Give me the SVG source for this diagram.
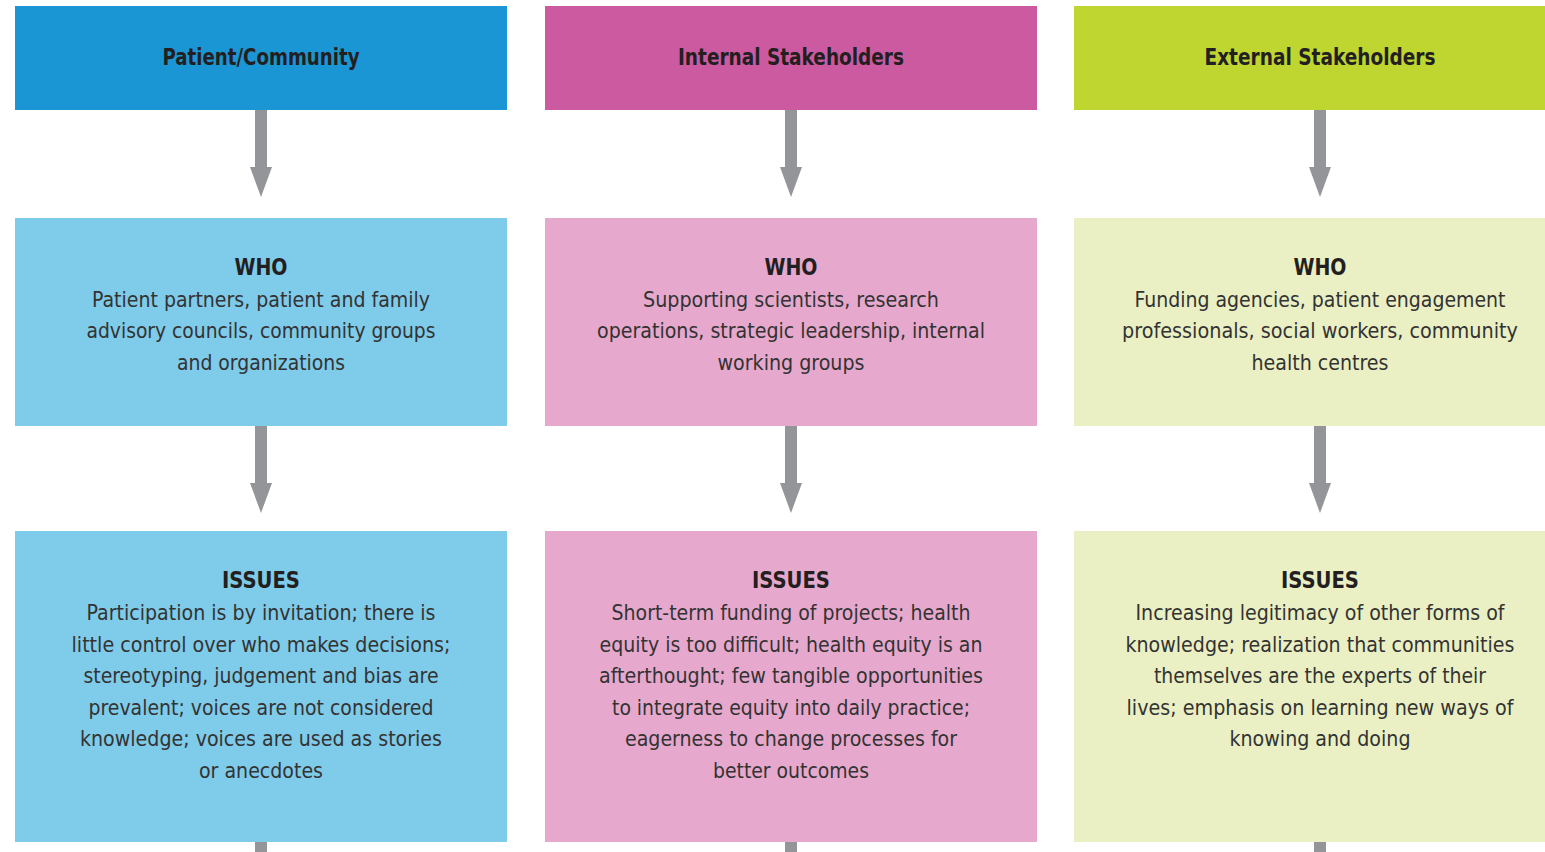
<svg xmlns="http://www.w3.org/2000/svg" width="1545" height="852" viewBox="0 0 1545 852">
<style>
.t{font-family:"DejaVu Sans Condensed","DejaVu Sans",sans-serif;font-stretch:condensed;text-anchor:middle}
.h{font-size:23px;font-weight:bold;fill:#231f20}
.k{font-size:23px;font-weight:bold;fill:#231f20}
.b{font-size:22px;fill:#333333}
.arr{fill:#939598}
</style>
<defs>
<path id="arrow" d="M-6,0 H6 V57 H11 L0,87 L-11,57 H-6 Z"/>
</defs>
<g id="connectors" class="arr">
<use href="#arrow" x="261" y="110"/>
<use href="#arrow" x="261" y="426"/>
<use href="#arrow" x="791" y="110"/>
<use href="#arrow" x="791" y="426"/>
<use href="#arrow" x="1320" y="110"/>
<use href="#arrow" x="1320" y="426"/>
<rect x="255" y="842" width="12" height="10"/>
<rect x="785" y="842" width="12" height="10"/>
<rect x="1314" y="842" width="12" height="10"/>
</g>
<g id="h1"><rect x="15" y="6" width="492" height="104" fill="#1b96d4"/>
<text class="t h" x="261" y="65" textLength="197" lengthAdjust="spacingAndGlyphs">Patient/Community</text></g>
<g id="h2"><rect x="545" y="6" width="492" height="104" fill="#cc5aa0"/>
<text class="t h" x="791" y="65" textLength="226" lengthAdjust="spacingAndGlyphs">Internal Stakeholders</text></g>
<g id="h3"><rect x="1074" y="6" width="471" height="104" fill="#bed62f"/>
<text class="t h" x="1320" y="65" textLength="231" lengthAdjust="spacingAndGlyphs">External Stakeholders</text></g>

<g id="who1"><rect x="15" y="218" width="492" height="208" fill="#7fcbea"/>
<text class="t k" x="261" y="275" textLength="53" lengthAdjust="spacingAndGlyphs">WHO</text>
<text class="t b" x="261" y="307" textLength="338" lengthAdjust="spacingAndGlyphs">Patient partners, patient and family</text>
<text class="t b" x="261" y="338" textLength="349" lengthAdjust="spacingAndGlyphs">advisory councils, community groups</text>
<text class="t b" x="261" y="370" textLength="168" lengthAdjust="spacingAndGlyphs">and organizations</text></g>
<g id="who2"><rect x="545" y="218" width="492" height="208" fill="#e6a9cd"/>
<text class="t k" x="791" y="275" textLength="53" lengthAdjust="spacingAndGlyphs">WHO</text>
<text class="t b" x="791" y="307" textLength="296" lengthAdjust="spacingAndGlyphs">Supporting scientists, research</text>
<text class="t b" x="791" y="338" textLength="388" lengthAdjust="spacingAndGlyphs">operations, strategic leadership, internal</text>
<text class="t b" x="791" y="370" textLength="147" lengthAdjust="spacingAndGlyphs">working groups</text></g>
<g id="who3"><rect x="1074" y="218" width="471" height="208" fill="#eaf0c3"/>
<text class="t k" x="1320" y="275" textLength="53" lengthAdjust="spacingAndGlyphs">WHO</text>
<text class="t b" x="1320" y="307" textLength="371" lengthAdjust="spacingAndGlyphs">Funding agencies, patient engagement</text>
<text class="t b" x="1320" y="338" textLength="396" lengthAdjust="spacingAndGlyphs">professionals, social workers, community</text>
<text class="t b" x="1320" y="370" textLength="137" lengthAdjust="spacingAndGlyphs">health centres</text></g>

<g id="iss1"><rect x="15" y="531" width="492" height="311" fill="#7fcbea"/>
<text class="t k" x="261" y="588" textLength="78" lengthAdjust="spacingAndGlyphs">ISSUES</text>
<text class="t b" x="261" y="620" textLength="349" lengthAdjust="spacingAndGlyphs">Participation is by invitation; there is</text>
<text class="t b" x="261" y="652" textLength="379" lengthAdjust="spacingAndGlyphs">little control over who makes decisions;</text>
<text class="t b" x="261" y="683" textLength="355" lengthAdjust="spacingAndGlyphs">stereotyping, judgement and bias are</text>
<text class="t b" x="261" y="715" textLength="345" lengthAdjust="spacingAndGlyphs">prevalent; voices are not considered</text>
<text class="t b" x="261" y="746" textLength="362" lengthAdjust="spacingAndGlyphs">knowledge; voices are used as stories</text>
<text class="t b" x="261" y="778" textLength="124" lengthAdjust="spacingAndGlyphs">or anecdotes</text></g>
<g id="iss2"><rect x="545" y="531" width="492" height="311" fill="#e6a9cd"/>
<text class="t k" x="791" y="588" textLength="78" lengthAdjust="spacingAndGlyphs">ISSUES</text>
<text class="t b" x="791" y="620" textLength="359" lengthAdjust="spacingAndGlyphs">Short-term funding of projects; health</text>
<text class="t b" x="791" y="652" textLength="383" lengthAdjust="spacingAndGlyphs">equity is too difficult; health equity is an</text>
<text class="t b" x="791" y="683" textLength="384" lengthAdjust="spacingAndGlyphs">afterthought; few tangible opportunities</text>
<text class="t b" x="791" y="715" textLength="358" lengthAdjust="spacingAndGlyphs">to integrate equity into daily practice;</text>
<text class="t b" x="791" y="746" textLength="332" lengthAdjust="spacingAndGlyphs">eagerness to change processes for</text>
<text class="t b" x="791" y="778" textLength="156" lengthAdjust="spacingAndGlyphs">better outcomes</text></g>
<g id="iss3"><rect x="1074" y="531" width="471" height="311" fill="#eaf0c3"/>
<text class="t k" x="1320" y="588" textLength="78" lengthAdjust="spacingAndGlyphs">ISSUES</text>
<text class="t b" x="1320" y="620" textLength="369" lengthAdjust="spacingAndGlyphs">Increasing legitimacy of other forms of</text>
<text class="t b" x="1320" y="652" textLength="389" lengthAdjust="spacingAndGlyphs">knowledge; realization that communities</text>
<text class="t b" x="1320" y="683" textLength="332" lengthAdjust="spacingAndGlyphs">themselves are the experts of their</text>
<text class="t b" x="1320" y="715" textLength="387" lengthAdjust="spacingAndGlyphs">lives; emphasis on learning new ways of</text>
<text class="t b" x="1320" y="746" textLength="181" lengthAdjust="spacingAndGlyphs">knowing and doing</text></g>
</svg>
